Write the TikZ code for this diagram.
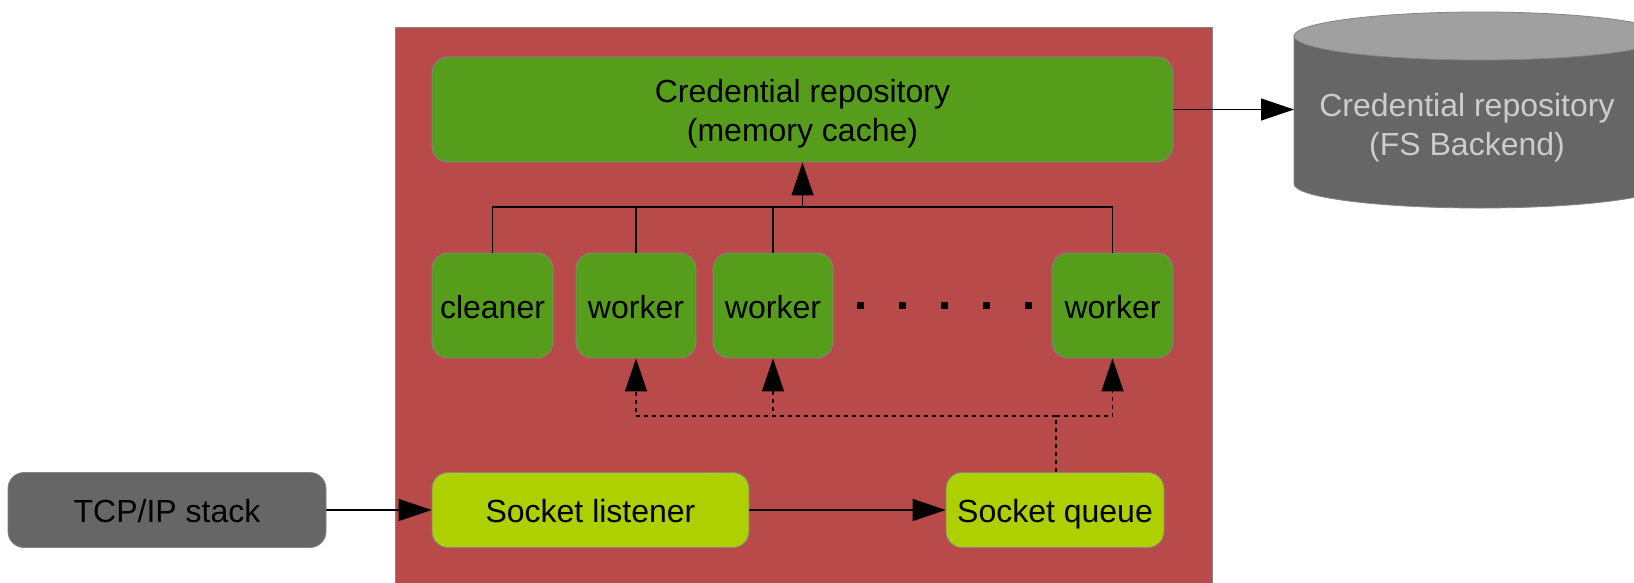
\documentclass[tikz,border=0pt]{standalone}
\usepackage{fontspec}
\setmainfont{Liberation Sans}
\usetikzlibrary{arrows.meta}
\definecolor{sysred}{HTML}{B84A4A}
\definecolor{boxgreen}{HTML}{579D1C}
\definecolor{boxlime}{HTML}{AECF00}
\definecolor{boxgray}{HTML}{666666}
\definecolor{cantop}{HTML}{A0A0A0}
\definecolor{cantext}{HTML}{CCCCCC}
\definecolor{edgegray}{HTML}{858585}
\tikzset{
  txt/.style={font=\fontsize{32}{39}\selectfont, align=center, inner sep=0pt},
  box/.style={draw=edgegray, line width=0.8pt, rounded corners=16pt, inner sep=0pt, align=center,
    font=\fontsize{32}{39}\selectfont, text height=25pt, text depth=0pt},
  greenbox/.style={box, fill=boxgreen},
  limebox/.style={box, fill=boxlime},
  graybox/.style={box, fill=boxgray},
  conn/.style={line width=1.2pt},
  arr/.style={conn, -{Triangle[length=33pt,width=22pt]}},
  dsh/.style={conn, dash pattern=on 4pt off 4pt},
  dsharr/.style={dsh, -{Triangle[length=33pt,width=22pt]}},
}
\begin{document}
\begin{tikzpicture}[x=1pt,y=-1pt]
\useasboundingbox (0,0) rectangle (1634,582);
\fill[white] (0,0) rectangle (1634,582);
% system area
\node[draw=edgegray, line width=0.8pt, fill=sysred, minimum width=817pt, minimum height=560pt, inner sep=0pt] (sys) at (803.5,307) {};
% boxes
\node[greenbox, minimum width=741pt, minimum height=105pt,
  label={[txt, yshift=-4.6pt]center:{Credential repository\\(memory cache)}}] (cache) at (802.5,109.5) {};
\node[greenbox, minimum width=121pt, minimum height=105pt] (cleaner) at (492.5,305.5) {cleaner};
\node[greenbox, minimum width=120pt, minimum height=105pt] (w1) at (636,305.5) {worker};
\node[greenbox, minimum width=120pt, minimum height=105pt] (w2) at (773,305.5) {worker};
\node[greenbox, minimum width=121pt, minimum height=105pt] (w3) at (1112.5,305.5) {worker};
\node[limebox, minimum width=317pt, minimum height=75pt] (listener) at (590.5,510) {Socket listener};
\node[limebox, minimum width=218pt, minimum height=75pt] (queue) at (1055,510) {Socket queue};
\node[graybox, minimum width=318pt, minimum height=75pt] (tcp) at (167,510) {TCP/IP stack};
% dots
\foreach \dx in {860,902,944,986,1028}
  \fill (\dx-3.5,301.5) rectangle (\dx+3.5,308.5);
% database cylinder
\fill[boxgray, draw=edgegray, line width=0.8pt] (1294,36) -- (1294,184) arc[start angle=180, end angle=360, x radius=186pt, y radius=24pt] -- (1666,36) -- cycle;
\fill[cantop, draw=edgegray, line width=0.8pt] (1480,36) ellipse[x radius=186pt, y radius=24pt];
\node[txt, text=cantext] (db) at (1467,128) {Credential repository\\(FS Backend)};
\coordinate (dbw) at (1294,109.5);
% connectors
\draw[arr] (tcp.east) -- (listener.west);
\draw[arr] (listener.east) -- (queue.west);
\draw[arr] (cache.east) -- (dbw);
\coordinate (join) at (802.5,207);
\draw[conn] (cleaner.north) |- (join);
\draw[conn] (w1.north) |- (join);
\draw[conn] (w2.north) |- (join);
\draw[conn] (w3.north) |- (join);
\draw[arr] (join) -- (cache.south);
\coordinate (qj) at (1056,416);
\draw[dsh] (queue.north -| qj) -- (qj);
\draw[dsharr] (qj) -| (w1.south);
\draw[dsharr] (qj) -| (w2.south);
\draw[dsharr] (qj) -| (w3.south);
\end{tikzpicture}
\end{document}
